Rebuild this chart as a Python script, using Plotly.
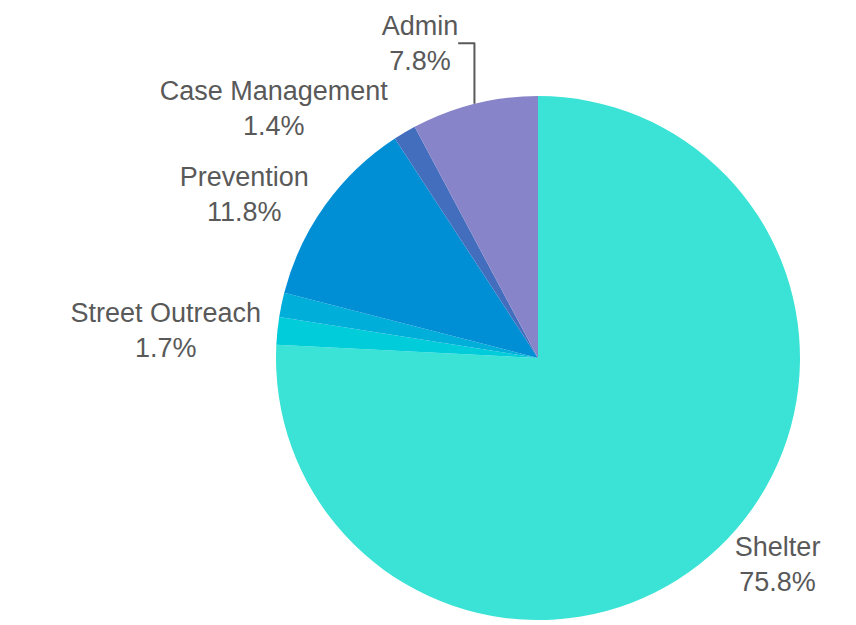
import plotly.graph_objects as go

categories = ["Shelter", "Street Outreach", "Other", "Prevention", "Case Management", "Admin"]
values = [75.8, 1.7, 1.5, 11.8, 1.4, 7.8]
show_label = [True, True, False, True, True, True]
colors = ["#3ae3d5", "#00cdd9", "#00aeda", "#008ed5", "#436ebe", "#8884ca"]

templates = ["%{label}<br>%{percent:.1%}" if s else "" for s in show_label]

fig = go.Figure(go.Pie(
    labels=categories,
    values=values,
    sort=False,
    direction="clockwise",
    rotation=0,
    marker=dict(colors=colors, line=dict(width=0)),
    textposition="outside",
    texttemplate=templates,
    outsidetextfont=dict(family="Liberation Sans, Arial, sans-serif", size=27, color="#595959"),
    showlegend=False,
    hoverinfo="label+percent",
    automargin=False,
))

fig.update_layout(
    width=856,
    height=625,
    margin=dict(l=268, r=64, t=88, b=13, autoexpand=False),
    paper_bgcolor="white",
    plot_bgcolor="white",
)

fig.write_html("out.html")
